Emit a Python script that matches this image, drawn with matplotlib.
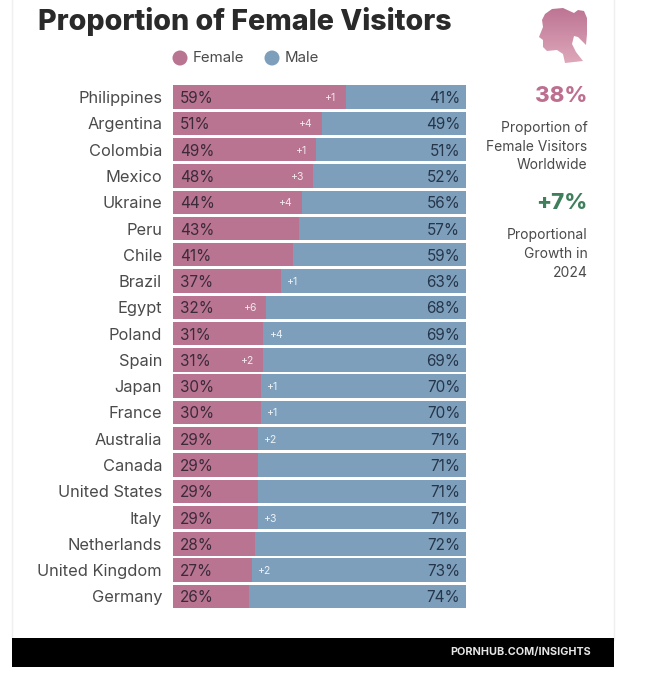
import numpy as np
import matplotlib
matplotlib.use("Agg")
import matplotlib.pyplot as plt
from matplotlib.patches import Rectangle, PathPatch, Circle
from matplotlib.path import Path

plt.rcParams['font.family'] = ['Inter', 'DejaVu Sans']

W, H = 650, 678

countries = ['Philippines', 'Argentina', 'Colombia', 'Mexico', 'Ukraine', 'Peru', 'Chile',
             'Brazil', 'Egypt', 'Poland', 'Spain', 'Japan', 'France', 'Australia', 'Canada',
             'United States', 'Italy', 'Netherlands', 'United Kingdom', 'Germany']
female = [59, 51, 49, 48, 44, 43, 41, 37, 32, 31, 31, 30, 30, 29, 29, 29, 29, 28, 27, 26]
male = [41, 49, 51, 52, 56, 57, 59, 63, 68, 69, 69, 70, 70, 71, 71, 71, 71, 72, 73, 74]
# yearly change, 0 = no label
change = [1, 4, 1, 3, 4, 0, 0, 1, 6, 4, 2, 1, 1, 2, 0, 0, 3, 0, 2, 0]
# which side of the split the change label sits on
change_side = [-1, -1, -1, -1, -1, 0, 0, 1, -1, 1, -1, 1, 1, 1, 0, 0, 1, 0, 1, 0]

PINK = '#b87490'
BLUE = '#7d9fbb'
GREY = '#4a4a4a'


def fx(px):
    return px / W


def fy(py):
    return 1 - py / H


fig = plt.figure(figsize=(W / 100, H / 100), dpi=100, facecolor='white')

# page panel and footer, in pixel coords
bg = fig.add_axes([0, 0, 1, 1])
bg.set_xlim(0, W)
bg.set_ylim(H, 0)
bg.axis('off')
bg.add_patch(Rectangle((12, -2), 602, 642, fc='white', ec='#efefef', lw=1))
bg.add_patch(Rectangle((12, 638), 602, 29, fc='black', ec='none'))

# bars
ax = fig.add_axes([fx(172.5), fy(609.5), 293.5 / W, 525.5 / H])
y = np.arange(len(countries))
ax.barh(y, female, height=0.89, color=PINK)
ax.barh(y, male, left=female, height=0.89, color=BLUE)
ax.set_xlim(0, 100)
ax.set_ylim(len(countries) - 0.5, -0.5)
ax.set_yticks(y)
ax.set_yticklabels(countries, fontsize=11.8, color=GREY, va='center_baseline')
ax.tick_params(axis='y', length=0, pad=7.5)
ax.set_xticks([])
for s in ax.spines.values():
    s.set_visible(False)
ax.patch.set_alpha(0)

for i in range(len(countries)):
    ax.text(2.5, i, f'{female[i]}%', va='center_baseline', ha='left', fontsize=11, color='#3a2a3a')
    ax.text(98, i, f'{male[i]}%', va='center_baseline', ha='right', fontsize=11, color='#26364a')
    if change[i]:
        if change_side[i] < 0:
            ax.text(female[i] - 3.5, i, f'+{change[i]}', va='center_baseline', ha='right', fontsize=7.5, color='#f4e8ee')
        else:
            ax.text(female[i] + 1.8, i, f'+{change[i]}', va='center_baseline', ha='left', fontsize=7.5, color='#eef3f7')

# title and legend
fig.text(fx(38), fy(21), 'Proportion of Female Visitors', fontsize=20.6, fontweight=800,
         color='#2a2a2a', va='center', ha='left')
bg.add_patch(Circle((180, 58), 7.5, fc=PINK, ec='none'))
bg.add_patch(Circle((272, 58), 7.5, fc=BLUE, ec='none'))
fig.text(fx(193), fy(58), 'Female', fontsize=10.8, color=GREY, va='center', ha='left')
fig.text(fx(285), fy(58), 'Male', fontsize=10.8, color=GREY, va='center', ha='left')

# silhouette with a vertical gradient
head = [(563, 8), (552, 9), (545, 14), (542, 20), (543, 27), (539, 37), (543, 40), (543, 47), (547, 51),
        (557, 50), (563, 54), (565, 63), (583, 61), (576, 52), (572, 44), (574, 36),
        (578, 37), (586, 45), (587, 34), (587, 18), (584, 11), (578, 10), (574, 13), (563, 8)]
clip = PathPatch(Path(head), fc='none', ec='none', transform=bg.transData)
bg.add_patch(clip)
im = bg.imshow(np.linspace(0, 1, 64).reshape(-1, 1), extent=(535, 590, 65, 6), aspect='auto',
               cmap=matplotlib.colors.LinearSegmentedColormap.from_list('h', ['#bc7392', '#dfa9bb']),
               zorder=2)
im.set_clip_path(clip)
bg.set_xlim(0, W)
bg.set_ylim(H, 0)

# side stats
fig.text(fx(587.5), fy(96), '38%', fontsize=16, fontweight=800, color='#bd6f8f', ha='right', va='center')
for py, line in zip([128, 147, 165], ['Proportion of', 'Female Visitors', 'Worldwide']):
    fig.text(fx(587.5), fy(py), line, fontsize=10, color=GREY, ha='right', va='center')
fig.text(fx(587.5), fy(203), '+7%', fontsize=16, fontweight=800, color='#3f7f5c', ha='right', va='center')
for py, line in zip([235, 254, 273], ['Proportional', 'Growth in', '2024']):
    fig.text(fx(587.5), fy(py), line, fontsize=10, color=GREY, ha='right', va='center')

# footer
fig.text(fx(591), fy(652), 'PORNHUB.COM/INSIGHTS', fontsize=7.8, fontweight='bold', color='#e6e6e6',
         ha='right', va='center')

fig.savefig('out.png', dpi=100)
